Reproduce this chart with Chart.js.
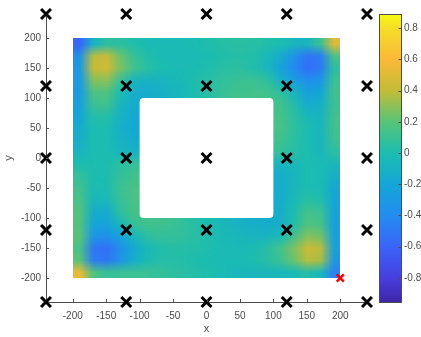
<!DOCTYPE html>
<html>
<head>
<meta charset="utf-8">
<script src="https://cdn.jsdelivr.net/npm/chart.js@4.4.1/dist/chart.umd.min.js"></script>
<style>
  html, body { margin: 0; background: #fff; }
  #plot { display: block; }
</style>
</head>
<body>
<canvas id="plot" width="421" height="337"></canvas>
<script>
const axisTicks = [-200, -150, -100, -50, 0, 50, 100, 150, 200];
const colorTicks = [-0.8, -0.6, -0.4, -0.2, 0, 0.2, 0.4, 0.6, 0.8];
const colorMin = -0.954;
const colorMax = 0.89;

// sensor grid, plus the one flagged sensor
const sensorX = [-240, -120, 0, 120, 240];
const sensorY = [-240, -120, 0, 120, 240];
const flaggedX = [200];
const flaggedY = [-200];

// field sampled on 20-unit cells (centres below), null inside the opening
const cellX = [-190, -170, -150, -130, -110, -90, -70, -50, -30, -10, 10, 30, 50, 70, 90, 110, 130, 150, 170, 190];
const cellY = [190, 170, 150, 130, 110, 90, 70, 50, 30, 10, -10, -30, -50, -70, -90, -110, -130, -150, -170, -190];
const _ = null;
const field = [
  [-0.6, -0.1, 0.05, 0.05, 0.02, -0.02, -0.03, -0.03, -0.02, 0.0, 0.02, 0.04, 0.05, 0.04, 0.02, 0.0, -0.06, -0.08, 0.1, 0.5],
  [-0.35, 0.38, 0.42, 0.24, 0.1, 0.02, -0.02, -0.03, -0.03, -0.02, 0.0, 0.02, 0.03, 0.02, -0.04, -0.16, -0.35, -0.52, -0.48, 0.15],
  [-0.3, 0.4, 0.45, 0.27, 0.13, 0.05, 0.0, -0.02, -0.02, -0.01, 0.02, 0.05, 0.05, 0.02, -0.06, -0.22, -0.4, -0.55, -0.48, 0.05],
  [-0.3, 0.28, 0.3, 0.1, -0.06, -0.1, -0.08, -0.05, -0.02, 0.02, 0.05, 0.08, 0.1, 0.1, 0.06, -0.1, -0.25, -0.38, -0.32, 0.1],
  [-0.28, 0.16, 0.18, 0.0, -0.13, -0.15, -0.12, -0.08, -0.03, 0.02, 0.06, 0.1, 0.12, 0.13, 0.13, 0.06, -0.08, -0.24, -0.2, 0.12],
  [-0.25, 0.1, 0.12, -0.05, -0.15, _, _, _, _, _, _, _, _, _, _, 0.12, 0.02, -0.15, -0.12, 0.1],
  [-0.2, 0.03, 0.03, -0.1, -0.17, _, _, _, _, _, _, _, _, _, _, 0.14, 0.05, -0.05, -0.08, 0.12],
  [-0.15, 0.0, 0.0, -0.12, -0.18, _, _, _, _, _, _, _, _, _, _, 0.15, 0.06, 0.0, -0.07, 0.12],
  [-0.12, 0.0, 0.0, -0.1, -0.15, _, _, _, _, _, _, _, _, _, _, 0.12, 0.05, 0.0, -0.07, 0.1],
  [-0.08, 0.0, 0.0, -0.06, -0.1, _, _, _, _, _, _, _, _, _, _, 0.08, 0.04, 0.0, -0.06, 0.05],
  [0.0, 0.0, 0.0, 0.05, 0.08, _, _, _, _, _, _, _, _, _, _, -0.08, -0.05, 0.0, -0.02, -0.05],
  [0.08, 0.0, 0.0, 0.08, 0.12, _, _, _, _, _, _, _, _, _, _, -0.14, -0.07, 0.0, -0.02, -0.12],
  [0.12, -0.02, 0.0, 0.1, 0.15, _, _, _, _, _, _, _, _, _, _, -0.15, -0.06, 0.0, -0.02, -0.18],
  [0.15, -0.06, -0.04, 0.08, 0.15, _, _, _, _, _, _, _, _, _, _, -0.15, -0.03, 0.04, 0.02, -0.2],
  [0.18, -0.14, -0.16, 0.05, 0.14, _, _, _, _, _, _, _, _, _, _, -0.13, 0.0, 0.13, 0.1, -0.22],
  [0.18, -0.2, -0.22, -0.05, 0.08, 0.12, 0.12, 0.1, 0.06, 0.02, -0.02, -0.06, -0.1, -0.13, -0.15, -0.12, 0.02, 0.17, 0.14, -0.25],
  [0.2, -0.32, -0.36, -0.22, -0.06, 0.05, 0.08, 0.08, 0.06, 0.03, -0.01, -0.04, -0.06, -0.08, -0.08, -0.02, 0.12, 0.28, 0.25, -0.25],
  [0.15, -0.5, -0.54, -0.38, -0.18, -0.04, 0.02, 0.03, 0.03, 0.02, 0.0, -0.02, -0.03, -0.02, 0.04, 0.13, 0.27, 0.42, 0.38, -0.25],
  [0.2, -0.48, -0.52, -0.34, -0.14, -0.02, 0.03, 0.03, 0.02, 0.0, -0.02, -0.03, -0.02, 0.0, 0.04, 0.11, 0.23, 0.38, 0.35, -0.3],
  [0.55, 0.18, 0.08, 0.1, 0.1, 0.1, 0.08, 0.06, 0.04, 0.02, 0.0, -0.03, -0.05, -0.06, -0.06, -0.05, -0.03, 0.03, -0.05, -0.45]
];

// parula-like colour ramp, keyed by field value
const palette = [
  [-0.954, [62, 38, 168]],
  [-0.8, [70, 62, 222]],
  [-0.6, [58, 100, 250]],
  [-0.4, [35, 140, 240]],
  [-0.2, [20, 166, 215]],
  [0.0, [28, 189, 176]],
  [0.2, [88, 196, 120]],
  [0.4, [195, 188, 55]],
  [0.6, [250, 185, 55]],
  [0.8, [245, 222, 40]],
  [0.89, [249, 250, 20]]
];

const inkColor = '#4d4d4d';
const tickFont = { family: 'Liberation Sans, Arial, sans-serif', size: 10 };

function colorAt(v) {
  if (v <= palette[0][0]) return palette[0][1];
  for (let i = 1; i < palette.length; i++) {
    const [v1, c1] = palette[i];
    if (v <= v1) {
      const [v0, c0] = palette[i - 1];
      const t = (v - v0) / (v1 - v0);
      return c0.map((c, k) => Math.round(c + (c1[k] - c) * t));
    }
  }
  return palette[palette.length - 1][1];
}

// nearest filled cell along the row or column, used to pad the opening
function padValue(r, c) {
  for (let d = 1; d < cellY.length; d++) {
    const picks = [[r - d, c], [r + d, c], [r, c - d], [r, c + d]];
    for (const [rr, cc] of picks) {
      if (field[rr] && field[rr][cc] != null) return field[rr][cc];
    }
  }
  return 0;
}

const sensors = [];
sensorY.forEach(y => sensorX.forEach(x => sensors.push({ x, y })));
const flagged = flaggedX.map((x, i) => ({ x, y: flaggedY[i] }));

const fieldLayer = {
  id: 'fieldLayer',
  beforeDatasetsDraw(chart) {
    const { ctx, scales: { x, y } } = chart;
    const cols = cellX.length, rows = cellY.length;
    const off = document.createElement('canvas');
    off.width = cols;
    off.height = rows;
    const octx = off.getContext('2d');
    const img = octx.createImageData(cols, rows);
    let r0 = rows, r1 = -1, c0 = cols, c1 = -1;
    for (let r = 0; r < rows; r++) {
      for (let c = 0; c < cols; c++) {
        let v = field[r][c];
        if (v == null) {
          r0 = Math.min(r0, r); r1 = Math.max(r1, r);
          c0 = Math.min(c0, c); c1 = Math.max(c1, c);
          v = padValue(r, c);
        }
        const rgb = colorAt(v);
        const i = (r * cols + c) * 4;
        img.data[i] = rgb[0];
        img.data[i + 1] = rgb[1];
        img.data[i + 2] = rgb[2];
        img.data[i + 3] = 255;
      }
    }
    octx.putImageData(img, 0, 0);

    const half = (cellX[1] - cellX[0]) / 2;
    const left = x.getPixelForValue(cellX[0] - half);
    const right = x.getPixelForValue(cellX[cols - 1] + half);
    const top = y.getPixelForValue(cellY[0] + half);
    const bottom = y.getPixelForValue(cellY[rows - 1] - half);
    const hl = x.getPixelForValue(cellX[c0] - half);
    const hr = x.getPixelForValue(cellX[c1] + half);
    const ht = y.getPixelForValue(cellY[r0] + half);
    const hb = y.getPixelForValue(cellY[r1] - half);

    ctx.save();
    ctx.beginPath();
    ctx.rect(left, top, right - left, bottom - top);
    ctx.roundRect(hl, ht, hr - hl, hb - ht, 4);
    ctx.clip('evenodd');
    ctx.imageSmoothingEnabled = true;
    ctx.imageSmoothingQuality = 'low';
    ctx.drawImage(off, left, top, right - left, bottom - top);
    ctx.restore();
  }
};

const frameLayer = {
  id: 'frameLayer',
  afterDraw(chart) {
    const { ctx, scales: { x, y, cb } } = chart;
    ctx.save();
    ctx.strokeStyle = inkColor;
    ctx.lineWidth = 1;

    // inward tick marks on both axes
    ctx.beginPath();
    axisTicks.forEach(v => {
      const px = Math.round(x.getPixelForValue(v)) + 0.5;
      ctx.moveTo(px, x.top);
      ctx.lineTo(px, x.top - 3);
      const py = Math.round(y.getPixelForValue(v)) + 0.5;
      ctx.moveTo(y.right, py);
      ctx.lineTo(y.right + 3, py);
    });
    ctx.stroke();

    // colour bar
    const barL = cb.left + 12, barR = cb.left + 34;
    const barT = cb.getPixelForValue(colorMax), barB = cb.getPixelForValue(colorMin);
    const grad = ctx.createLinearGradient(0, barB, 0, barT);
    palette.forEach(([v, rgb]) => {
      grad.addColorStop((v - colorMin) / (colorMax - colorMin), `rgb(${rgb.join(',')})`);
    });
    ctx.fillStyle = grad;
    ctx.fillRect(barL, barT, barR - barL, barB - barT);
    ctx.strokeRect(Math.round(barL) + 0.5, Math.round(barT) + 0.5, Math.round(barR - barL), Math.round(barB - barT));
    ctx.beginPath();
    colorTicks.forEach(v => {
      const py = Math.round(cb.getPixelForValue(v)) + 0.5;
      ctx.moveTo(Math.round(barR) + 0.5, py);
      ctx.lineTo(Math.round(barR) - 2.5, py);
    });
    ctx.stroke();
    ctx.restore();
  }
};

new Chart(document.getElementById('plot'), {
  type: 'scatter',
  data: {
    datasets: [
      {
        data: sensors,
        pointStyle: 'crossRot',
        radius: 7,
        borderWidth: 3,
        borderColor: '#000',
        clip: false
      },
      {
        data: flagged,
        pointStyle: 'crossRot',
        radius: 5,
        borderWidth: 2.5,
        borderColor: '#ff0000',
        clip: false
      }
    ]
  },
  options: {
    responsive: false,
    animation: false,
    devicePixelRatio: 1,
    layout: { autoPadding: false, padding: { top: 14, left: 0, right: 0, bottom: 0 } },
    plugins: { legend: { display: false }, tooltip: { enabled: false } },
    scales: {
      x: {
        type: 'linear',
        position: 'bottom',
        min: -240,
        max: 240,
        afterBuildTicks: s => { s.ticks = axisTicks.map(value => ({ value })); },
        afterFit: s => { s.height = 35; },
        // tick marks are drawn inward by frameLayer; tickLength only offsets the labels
        grid: { display: false, drawTicks: true, tickLength: 8 },
        border: { display: true, color: inkColor },
        ticks: { font: tickFont, color: inkColor, padding: 0, autoSkip: false, maxRotation: 0, callback: v => String(v) },
        title: { display: true, text: 'x', font: { family: tickFont.family, size: 11 }, color: inkColor, padding: { top: 0, bottom: 1 } }
      },
      y: {
        type: 'linear',
        position: 'left',
        min: -240,
        max: 240,
        afterBuildTicks: s => { s.ticks = axisTicks.map(value => ({ value })); },
        afterFit: s => { s.width = 46; },
        grid: { display: false, drawTicks: true, tickLength: 5 },
        border: { display: true, color: inkColor },
        ticks: { font: tickFont, color: inkColor, padding: 0, autoSkip: false, callback: v => String(v) },
        title: { display: true, text: 'y', font: { family: tickFont.family, size: 11 }, color: inkColor, padding: { top: 2, bottom: 0 } }
      },
      cb: {
        type: 'linear',
        position: 'right',
        min: colorMin,
        max: colorMax,
        afterBuildTicks: s => { s.ticks = colorTicks.map(value => ({ value })); },
        afterFit: s => { s.width = 54; },
        grid: { display: false, drawTicks: true, tickLength: 37 },
        border: { display: false },
        ticks: { font: tickFont, color: inkColor, padding: 0, autoSkip: false, callback: v => (v === 0 ? '0' : v.toFixed(1)) }
      }
    }
  },
  plugins: [fieldLayer, frameLayer]
});
</script>
</body>
</html>
